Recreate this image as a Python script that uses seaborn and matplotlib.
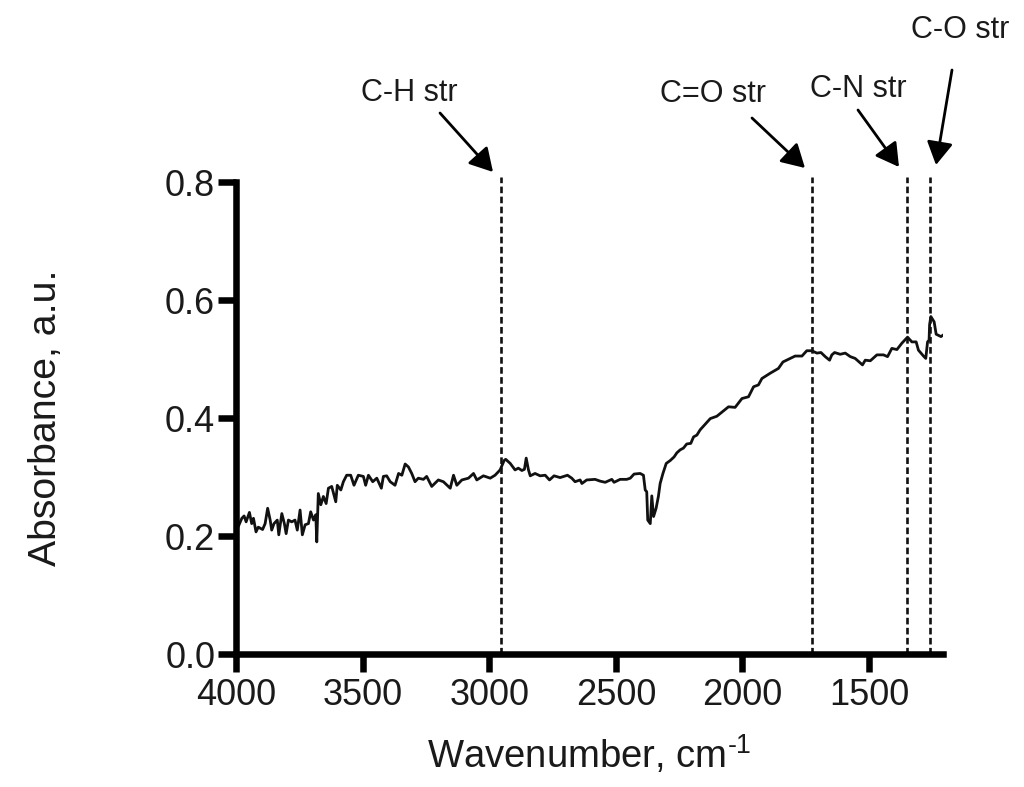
import matplotlib
matplotlib.use("Agg")
import matplotlib.pyplot as plt
import seaborn as sns
import pandas as pd

wavenumber = [
    3991, 3977, 3968, 3960, 3947, 3938, 3931, 3921, 3912, 3895, 3885, 3875, 3865, 3859, 3850, 3837,
    3831, 3819, 3809, 3802, 3793, 3780, 3767, 3758, 3747, 3738, 3727, 3714, 3705, 3694, 3685, 3681,
    3675, 3665, 3655, 3644, 3635, 3622, 3606, 3600, 3586, 3576, 3563, 3547, 3534, 3517, 3497, 3488,
    3477, 3460, 3444, 3426, 3418, 3405, 3391, 3372, 3358, 3345, 3332, 3319, 3306, 3293, 3280, 3260,
    3247, 3227, 3201, 3181, 3154, 3141, 3128, 3108, 3082, 3062, 3049, 3023, 2996, 2977, 2957, 2941,
    2935, 2917, 2898, 2885, 2871, 2861, 2854, 2845, 2838, 2819, 2799, 2779, 2762, 2744, 2720, 2691,
    2674, 2661, 2641, 2634, 2615, 2582, 2562, 2542, 2516, 2507, 2483, 2457, 2443, 2428, 2404, 2391,
    2384, 2378, 2374, 2364, 2358, 2351, 2341, 2332, 2325, 2314, 2301, 2285, 2270, 2259, 2246, 2233,
    2220, 2204, 2193, 2180,
    2167, 2127, 2101, 2075, 2055, 2029, 2002, 1976, 1956, 1937, 1923, 1890, 1858, 1840, 1811, 1792,
    1765, 1746, 1726, 1706, 1690, 1673, 1656, 1647, 1636, 1614, 1594, 1574, 1555, 1539, 1526, 1515,
    1495, 1469, 1443, 1427, 1410, 1390, 1370, 1348, 1331, 1314, 1305, 1285, 1276, 1269, 1263, 1261,
    1256, 1243, 1235, 1216, 1206,
]
absorbance = [
    0.216, 0.230, 0.234, 0.224, 0.240, 0.221, 0.230, 0.207, 0.215, 0.211, 0.221, 0.247, 0.227, 0.210, 0.221, 0.227,
    0.202, 0.238, 0.221, 0.204, 0.227, 0.224, 0.227, 0.210, 0.244, 0.202, 0.219, 0.221, 0.241, 0.227, 0.236, 0.190,
    0.272, 0.253, 0.267, 0.255, 0.281, 0.284, 0.258, 0.286, 0.278, 0.292, 0.303, 0.303, 0.286, 0.303, 0.301, 0.286,
    0.303, 0.292, 0.298, 0.281, 0.301, 0.302, 0.292, 0.286, 0.306, 0.303, 0.322, 0.317, 0.306, 0.292, 0.298, 0.296,
    0.301, 0.284, 0.295, 0.292, 0.281, 0.303, 0.286, 0.295, 0.298, 0.306, 0.295, 0.302, 0.298, 0.303, 0.312, 0.328,
    0.330, 0.323, 0.312, 0.315, 0.311, 0.313, 0.332, 0.312, 0.302, 0.306, 0.302, 0.303, 0.295, 0.302, 0.299, 0.303,
    0.298, 0.292, 0.295, 0.289, 0.295, 0.296, 0.293, 0.291, 0.296, 0.291, 0.296, 0.296, 0.298, 0.305, 0.306, 0.303,
    0.278, 0.275, 0.227, 0.221, 0.268, 0.233, 0.247, 0.267, 0.289, 0.306, 0.323, 0.328, 0.334, 0.341, 0.346, 0.349,
    0.356, 0.357, 0.368, 0.371,
    0.380, 0.399, 0.403, 0.412, 0.419, 0.418, 0.433, 0.436, 0.453, 0.456, 0.467, 0.476, 0.484, 0.495, 0.501, 0.505,
    0.505, 0.514, 0.514, 0.510, 0.511, 0.504, 0.498, 0.507, 0.511, 0.508, 0.510, 0.504, 0.501, 0.495, 0.490, 0.498,
    0.497, 0.507, 0.507, 0.504, 0.518, 0.516, 0.527, 0.537, 0.529, 0.529, 0.515, 0.505, 0.501, 0.529, 0.532, 0.558,
    0.572, 0.563, 0.542, 0.538, 0.541,
]
peak_positions = [2953, 1725, 1350, 1259]
peak_labels = ["C-H str", "C=O str", "C-N str", "C-O str"]
x_ticks = [4000, 3500, 3000, 2500, 2000, 1500]
y_ticks = [0.0, 0.2, 0.4, 0.6, 0.8]

W, H = 1024, 787

sns.set_style("ticks")
plt.rcParams["font.family"] = ["Liberation Sans", "DejaVu Sans"]
plt.rcParams["mathtext.fontset"] = "custom"
plt.rcParams["mathtext.rm"] = "Liberation Sans"

df = pd.DataFrame({"wavenumber": wavenumber, "absorbance": absorbance})


def fig_xy(px, py):
    return px / W, 1 - py / H


fig = plt.figure(figsize=(W / 100, H / 100), dpi=100)
ax = fig.add_axes([236 / W, 1 - 654 / H, (943 - 236) / W, (654 - 182) / H])

sns.lineplot(data=df, x="wavenumber", y="absorbance", estimator=None, sort=False,
             color="#111111", linewidth=2.0, ax=ax)

for p in peak_positions:
    ax.plot([p, p], [0, 0.808], color="#111111", linewidth=1.9,
            linestyle=(0, (2.5, 1.3)), clip_on=False)

ax.set_xlim(4000, 1208)
ax.set_ylim(0, 0.8)
ax.set_xticks(x_ticks)
ax.set_yticks(y_ticks)
ax.set_yticklabels([f"{v:.1f}" for v in y_ticks])
ax.tick_params(axis="both", labelsize=26, width=4.7, length=13, color="black",
               labelcolor="#1a1a1a")
ax.tick_params(axis="y", pad=2)
ax.tick_params(axis="x", pad=4)
ax.set_xlabel("Wavenumber, cm$^{\\mathregular{\u20101}}$", fontsize=27.5, color="#1a1a1a", labelpad=15)
ax.set_ylabel("Absorbance, a.u.", fontsize=28.3, color="#1a1a1a", labelpad=73)

sns.despine(ax=ax)
ax.spines["left"].set_linewidth(4.7)
ax.spines["bottom"].set_linewidth(4.7)
ax.spines["left"].set_color("black")
ax.spines["bottom"].set_color("black")

text_centers = [(409, 93), (713, 94), (858, 89), (960, 30)]
arrow_tails = [(440, 113), (752, 118), (858, 110), (952, 70)]
arrow_heads = [(493, 172), (805, 168), (899, 167), (936, 165)]

for label, tc, tail, head in zip(peak_labels, text_centers, arrow_tails, arrow_heads):
    fig.text(*fig_xy(*tc), label, fontsize=22, color="#1a1a1a", ha="center", va="center")
    ax.annotate("", xy=fig_xy(*head), xytext=fig_xy(*tail),
                xycoords="figure fraction", textcoords="figure fraction",
                arrowprops=dict(arrowstyle="-|>,head_length=0.7,head_width=0.4",
                                color="black", linewidth=2, shrinkA=0, shrinkB=0,
                                mutation_scale=20))

fig.savefig("out.png", dpi=100)
